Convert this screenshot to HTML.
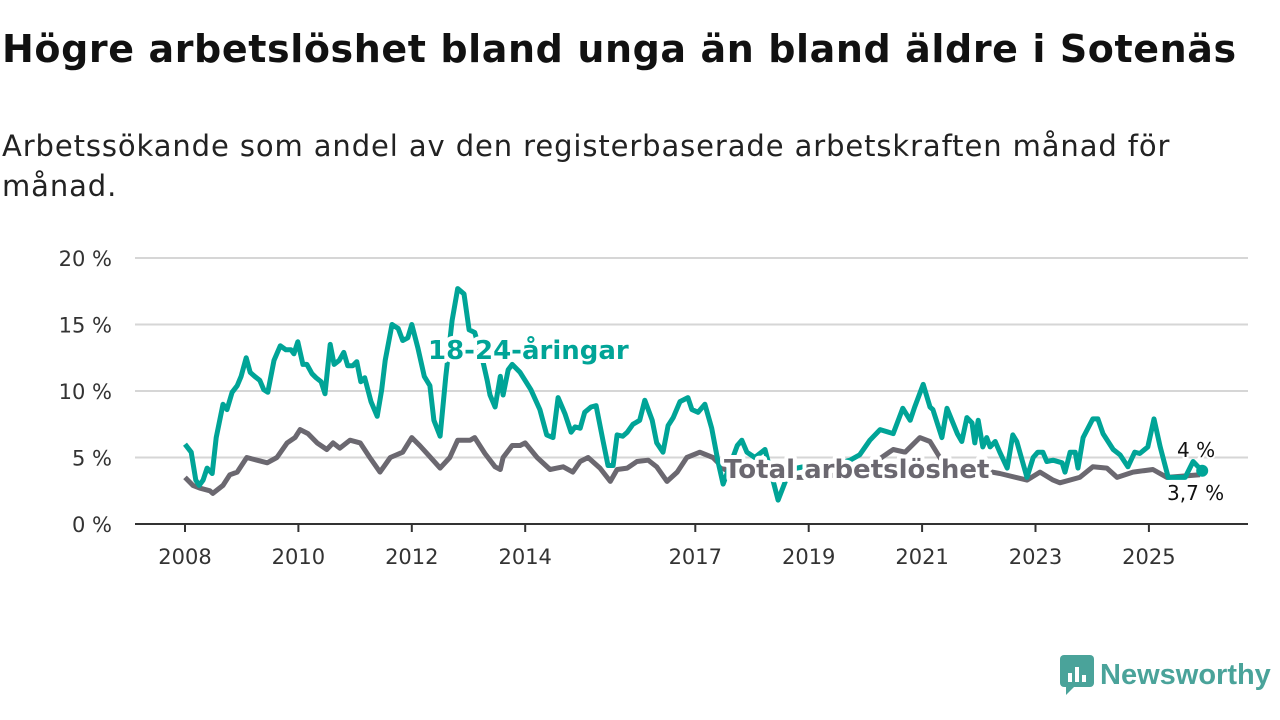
<!DOCTYPE html>
<html><head><meta charset="utf-8">
<style>
body{margin:0;background:#fff;width:1280px;height:720px;overflow:hidden;font-family:"DejaVu Sans","Liberation Sans",sans-serif;}
h1{position:absolute;left:2px;top:27px;margin:0;font-size:38px;font-weight:bold;color:#111;letter-spacing:0.6px;white-space:nowrap}
p.sub{position:absolute;left:2px;top:126px;margin:0;font-size:29px;line-height:40px;color:#222;width:1190px;letter-spacing:0.9px}
svg{position:absolute;left:0;top:0}
</style></head><body>
<h1>Högre arbetslöshet bland unga än bland äldre i Sotenäs</h1>
<p class="sub">Arbetssökande som andel av den registerbaserade arbetskraften månad för månad.</p>
<svg id="chart" width="1280" height="720"></svg>
<div style="position:absolute;left:1060px;top:655px;display:flex;align-items:center;">
<svg width="34" height="40" style="position:static"><rect x="0" y="0" width="34" height="32" rx="4" fill="#4aa39a"/><polygon points="6,32 14,32 6,40" fill="#4aa39a"/><rect x="8" y="18" width="4" height="9" fill="#fff"/><rect x="15" y="12" width="4" height="15" fill="#fff"/><rect x="22" y="20" width="4" height="7" fill="#fff"/></svg>
<span style="font-size:29px;color:#4aa39a;margin-left:6px;font-weight:bold;letter-spacing:0px;font-family:'Liberation Sans',sans-serif">Newsworthy</span></div>
<script>
const yTicks=[0,5,10,15,20];
const yTickLabels=["0 %","5 %","10 %","15 %","20 %"];
const xTicks=[2008,2010,2012,2014,2017,2019,2021,2023,2025];
const youthDates=[2008.00,2008.11,2008.19,2008.25,2008.32,2008.39,2008.48,2008.55,2008.67,2008.74,2008.83,2008.92,2008.99,2009.08,2009.15,2009.23,2009.32,2009.39,2009.46,2009.57,2009.68,2009.78,2009.87,2009.92,2009.99,2010.08,2010.15,2010.24,2010.31,2010.40,2010.47,2010.56,2010.63,2010.72,2010.80,2010.87,2010.96,2011.03,2011.10,2011.17,2011.28,2011.39,2011.47,2011.53,2011.65,2011.76,2011.84,2011.93,2012.00,2012.11,2012.22,2012.32,2012.39,2012.50,2012.60,2012.71,2012.81,2012.92,2013.01,2013.11,2013.24,2013.33,2013.38,2013.47,2013.56,2013.61,2013.70,2013.77,2013.91,2014.10,2014.26,2014.38,2014.49,2014.58,2014.70,2014.81,2014.88,2014.97,2015.05,2015.16,2015.25,2015.37,2015.46,2015.55,2015.62,2015.72,2015.80,2015.90,2016.02,2016.11,2016.24,2016.32,2016.43,2016.52,2016.61,2016.73,2016.87,2016.94,2017.05,2017.17,2017.29,2017.40,2017.49,2017.74,2017.82,2017.91,2018.05,2018.23,2018.46,2018.67,2019.02,2019.38,2019.73,2019.90,2020.08,2020.26,2020.49,2020.66,2020.79,2020.87,2021.02,2021.14,2021.19,2021.35,2021.44,2021.62,2021.70,2021.79,2021.88,2021.93,2021.99,2022.07,2022.14,2022.20,2022.29,2022.37,2022.50,2022.60,2022.67,2022.85,2022.96,2023.04,2023.13,2023.20,2023.31,2023.47,2023.52,2023.61,2023.70,2023.75,2023.84,2024.01,2024.10,2024.19,2024.37,2024.49,2024.63,2024.75,2024.84,2024.98,2025.09,2025.20,2025.34,2025.46,2025.64,2025.78,2025.87,2025.94];
const youthValues=[6.0,5.4,3.3,2.9,3.3,4.2,3.8,6.5,9.0,8.6,9.9,10.4,11.1,12.5,11.4,11.1,10.8,10.1,9.9,12.3,13.4,13.1,13.1,12.8,13.7,12.0,12.0,11.3,11.0,10.7,9.8,13.5,12.0,12.3,12.9,11.9,11.9,12.2,10.7,11.0,9.2,8.1,10.1,12.3,15.0,14.7,13.8,14.0,15.0,13.2,11.1,10.4,7.8,6.6,11.1,15.3,17.7,17.3,14.6,14.4,12.5,10.8,9.7,8.8,11.1,9.7,11.6,12.0,11.4,10.1,8.6,6.7,6.5,9.5,8.3,6.9,7.3,7.2,8.4,8.8,8.9,6.3,4.4,4.4,6.7,6.6,6.9,7.5,7.8,9.3,7.8,6.1,5.4,7.4,8.0,9.2,9.5,8.6,8.4,9.0,7.2,4.7,3.0,5.9,6.3,5.4,5.0,5.6,1.8,4.1,4.4,4.4,4.8,5.2,6.3,7.1,6.8,8.7,7.8,8.8,10.5,8.8,8.6,6.5,8.7,6.8,6.2,8.0,7.6,6.1,7.8,5.8,6.5,5.8,6.2,5.4,4.2,6.7,6.2,3.5,5.0,5.4,5.4,4.7,4.8,4.6,3.9,5.4,5.4,4.2,6.5,7.9,7.9,6.8,5.6,5.2,4.3,5.4,5.3,5.8,7.9,5.8,3.5,3.5,3.5,4.7,4.3,4.0];
const totalDates=[2008.00,2008.14,2008.26,2008.44,2008.49,2008.67,2008.79,2008.92,2009.09,2009.27,2009.45,2009.62,2009.80,2009.94,2010.03,2010.17,2010.33,2010.50,2010.61,2010.73,2010.91,2011.09,2011.26,2011.44,2011.62,2011.84,2012.00,2012.14,2012.29,2012.50,2012.67,2012.81,2013.03,2013.11,2013.29,2013.47,2013.56,2013.61,2013.77,2013.91,2014.00,2014.21,2014.44,2014.56,2014.67,2014.84,2014.97,2015.11,2015.32,2015.50,2015.62,2015.80,2015.97,2016.17,2016.32,2016.50,2016.68,2016.85,2017.08,2017.31,2017.52,2017.96,2018.49,2019.02,2019.55,2020.08,2020.49,2020.70,2020.96,2021.14,2021.40,2021.84,2022.37,2022.85,2023.08,2023.31,2023.43,2023.78,2024.01,2024.26,2024.44,2024.72,2025.07,2025.32,2025.90];
const totalValues=[3.5,2.9,2.7,2.5,2.3,2.9,3.7,3.9,5.0,4.8,4.6,5.0,6.1,6.5,7.1,6.8,6.1,5.6,6.1,5.7,6.3,6.1,5.0,3.9,5.0,5.4,6.5,5.9,5.2,4.2,5.0,6.3,6.3,6.5,5.3,4.3,4.1,5.0,5.9,5.9,6.1,5.0,4.1,4.2,4.3,3.9,4.7,5.0,4.2,3.2,4.1,4.2,4.7,4.8,4.3,3.2,3.9,5.0,5.4,5.0,4.1,3.7,3.5,3.5,3.7,4.4,5.6,5.4,6.5,6.2,4.4,4.2,3.8,3.3,3.9,3.3,3.1,3.5,4.3,4.2,3.5,3.9,4.1,3.5,3.7];
const NS="http://www.w3.org/2000/svg";
const svg=document.getElementById('chart');
const X=t=>185+(t-2008)*56.7;
const Y=v=>524-v*13.3;
function mk(tag,attrs,text){const e=document.createElementNS(NS,tag);for(const k in attrs)e.setAttribute(k,attrs[k]);if(text!==undefined)e.textContent=text;svg.appendChild(e);return e;}
yTicks.forEach((v,i)=>{
 if(v>0){const g=mk('line',{x1:135,x2:1248,y1:Y(v),y2:Y(v),stroke:'#d6d6d6','stroke-width':2});
 
 }
 const t=mk('text',{x:112,y:Y(v)+8,'text-anchor':'end','font-size':21,fill:'#333'},yTickLabels[i]);
 
 
});
xTicks.forEach(yr=>{
 const tk=mk('line',{x1:X(yr),x2:X(yr),y1:524,y2:532,stroke:'#333','stroke-width':2});
 
 
 const t=mk('text',{x:X(yr),y:564,'text-anchor':'middle','font-size':21,fill:'#333'},String(yr));
 
 
});
const ax=mk('line',{x1:135,x2:1248,y1:524,y2:524,stroke:'#333','stroke-width':2});


function path(d,v){return d.map((t,i)=>(i?'L':'M')+X(t).toFixed(1)+','+Y(v[i]).toFixed(1)).join('');}
const pt=mk('path',{d:path(totalDates,totalValues),fill:'none',stroke:'#6b6870','stroke-width':5,'stroke-linejoin':'round'});


const py=mk('path',{d:path(youthDates,youthValues),fill:'none',stroke:'#00a497','stroke-width':5,'stroke-linejoin':'round'});


const lastY=youthDates.length-1;
const dot=mk('circle',{cx:X(youthDates[lastY]),cy:Y(youthValues[lastY]),r:6,fill:'#00a497'});


const l1=mk('text',{x:428,y:359,'font-size':26,'font-weight':'bold',fill:'#00a497',stroke:'#fff','stroke-width':8,'paint-order':'stroke','stroke-linejoin':'round'},'18-24-åringar');


const l2=mk('text',{x:724,y:478,'font-size':26,'font-weight':'bold',fill:'#6b6870',stroke:'#fff','stroke-width':8,'paint-order':'stroke','stroke-linejoin':'round'},'Total arbetslöshet');


const e1=mk('text',{x:1177,y:457,'font-size':20,fill:'#111',stroke:'#fff','stroke-width':4,'paint-order':'stroke'},youthValues[lastY].toString().replace('.',',')+' %');


const e2=mk('text',{x:1167,y:500,'font-size':20,fill:'#111',stroke:'#fff','stroke-width':4,'paint-order':'stroke'},totalValues[totalValues.length-1].toString().replace('.',',')+' %');


</script>
</body></html>
